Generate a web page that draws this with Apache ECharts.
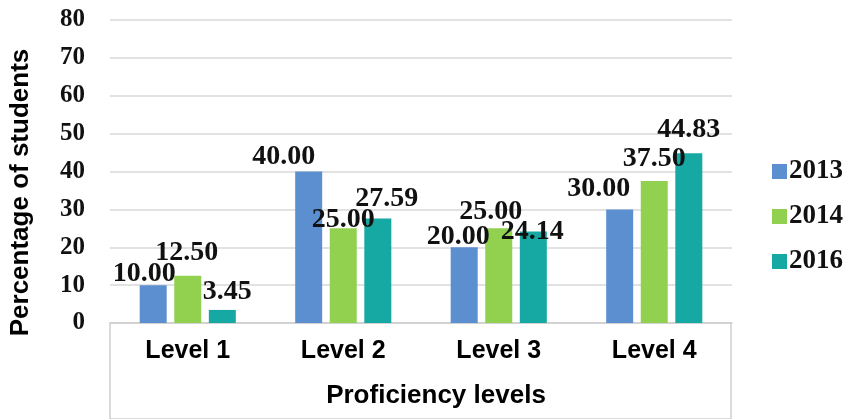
<!DOCTYPE html>
<html>
<head>
<meta charset="utf-8">
<script src="https://cdn.jsdelivr.net/npm/echarts@6/dist/echarts.min.js"></script>
<style>html,body{margin:0;padding:0;background:#fff}#c{width:850px;height:419px}</style>
</head>
<body>
<div id="c"></div>
<script>
var categories = ['Level 1', 'Level 2', 'Level 3', 'Level 4'];
var seriesNames = ['2013', '2014', '2016'];
var values2013 = [10.00, 40.00, 20.00, 30.00];
var values2014 = [12.50, 25.00, 25.00, 37.50];
var values2016 = [3.45, 27.59, 24.14, 44.83];
var yTicks = [0, 10, 20, 30, 40, 50, 60, 70, 80];

// label nudges (style only), per series per category
var labelOffsets = [
  [[-9, 3], [-25, -1], [-6, 4], [-21, -7]],
  [[-1, -9], [0, 5], [-8, -3], [0, -8]],
  [[5, -4], [9, -6], [-1, 14], [0, -9]]
];
var colors = ['#5B8FCF', '#92D050', '#16A8A2'];
var allValues = [values2013, values2014, values2016];

var serif = '"Liberation Serif", "Times New Roman", serif';
var sans = '"Liberation Sans", Arial, sans-serif';

var series = allValues.map(function (vals, si) {
  return {
    name: seriesNames[si],
    type: 'bar',
    barWidth: 27,
    barGap: '28%',
    itemStyle: { color: colors[si] },
    data: vals.map(function (v, ci) {
      return {
        value: v,
        label: { offset: labelOffsets[si][ci] }
      };
    }),
    label: {
      show: true,
      position: 'top',
      distance: 0,
      fontFamily: serif,
      fontWeight: 'bold',
      fontSize: 28,
      color: '#111',
      formatter: function (p) { return p.value.toFixed(2); }
    }
  };
});

series.push({
  type: 'bar', xAxisIndex: 1, yAxisIndex: 1, data: [], silent: true
});

var chart = echarts.init(document.getElementById('c'));
chart.setOption({
  animation: false,
  backgroundColor: '#fff',
  grid: [
    { left: 110, right: 118, top: 20, bottom: 96 },
    { left: 110, right: 119, top: 323, bottom: -10, show: true, borderColor: '#d0d0d0', borderWidth: 1.5, backgroundColor: 'transparent' }
  ],
  legend: {
    orient: 'vertical',
    left: 767,
    top: 153,
    itemWidth: 15,
    itemHeight: 15,
    itemGap: 18,
    icon: 'rect',
    data: seriesNames,
    textStyle: { fontFamily: serif, fontWeight: 'bold', fontSize: 27, color: '#111', padding: [0, 0, 0, -3] }
  },
  xAxis: [{
    type: 'category',
    data: categories,
    axisLine: { show: true, lineStyle: { color: '#d0d0d0', width: 1.5 } },
    axisTick: { show: false },
    axisLabel: { margin: 16, fontFamily: sans, fontWeight: 'bold', fontSize: 25, color: '#000' },
    name: 'Proficiency levels',
    nameLocation: 'middle',
    nameGap: 60,
    nameTextStyle: { fontFamily: sans, fontWeight: 'bold', fontSize: 26, color: '#000', padding: [0, 0, 0, 30] }
  }, {
    gridIndex: 1, type: 'category', data: categories, show: false
  }],
  yAxis: [{
    type: 'value',
    min: 0,
    max: 80,
    interval: 10,
    axisLine: { show: false },
    axisTick: { show: false },
    splitLine: { lineStyle: { color: '#d9d9d9', width: 1.5 } },
    axisLabel: {
      margin: 25, fontFamily: serif, fontWeight: 'bold', fontSize: 25, color: '#111',
      formatter: function (v) { return yTicks.indexOf(v) >= 0 ? String(v) : ''; }
    },
    name: 'Percentage of students',
    nameLocation: 'middle',
    nameGap: 76,
    nameTextStyle: { fontFamily: sans, fontWeight: 'bold', fontSize: 26, color: '#000', padding: [0, 42, 0, 0] }
  }, {
    gridIndex: 1, type: 'value', show: false
  }],
  series: series
});
</script>
</body>
</html>
